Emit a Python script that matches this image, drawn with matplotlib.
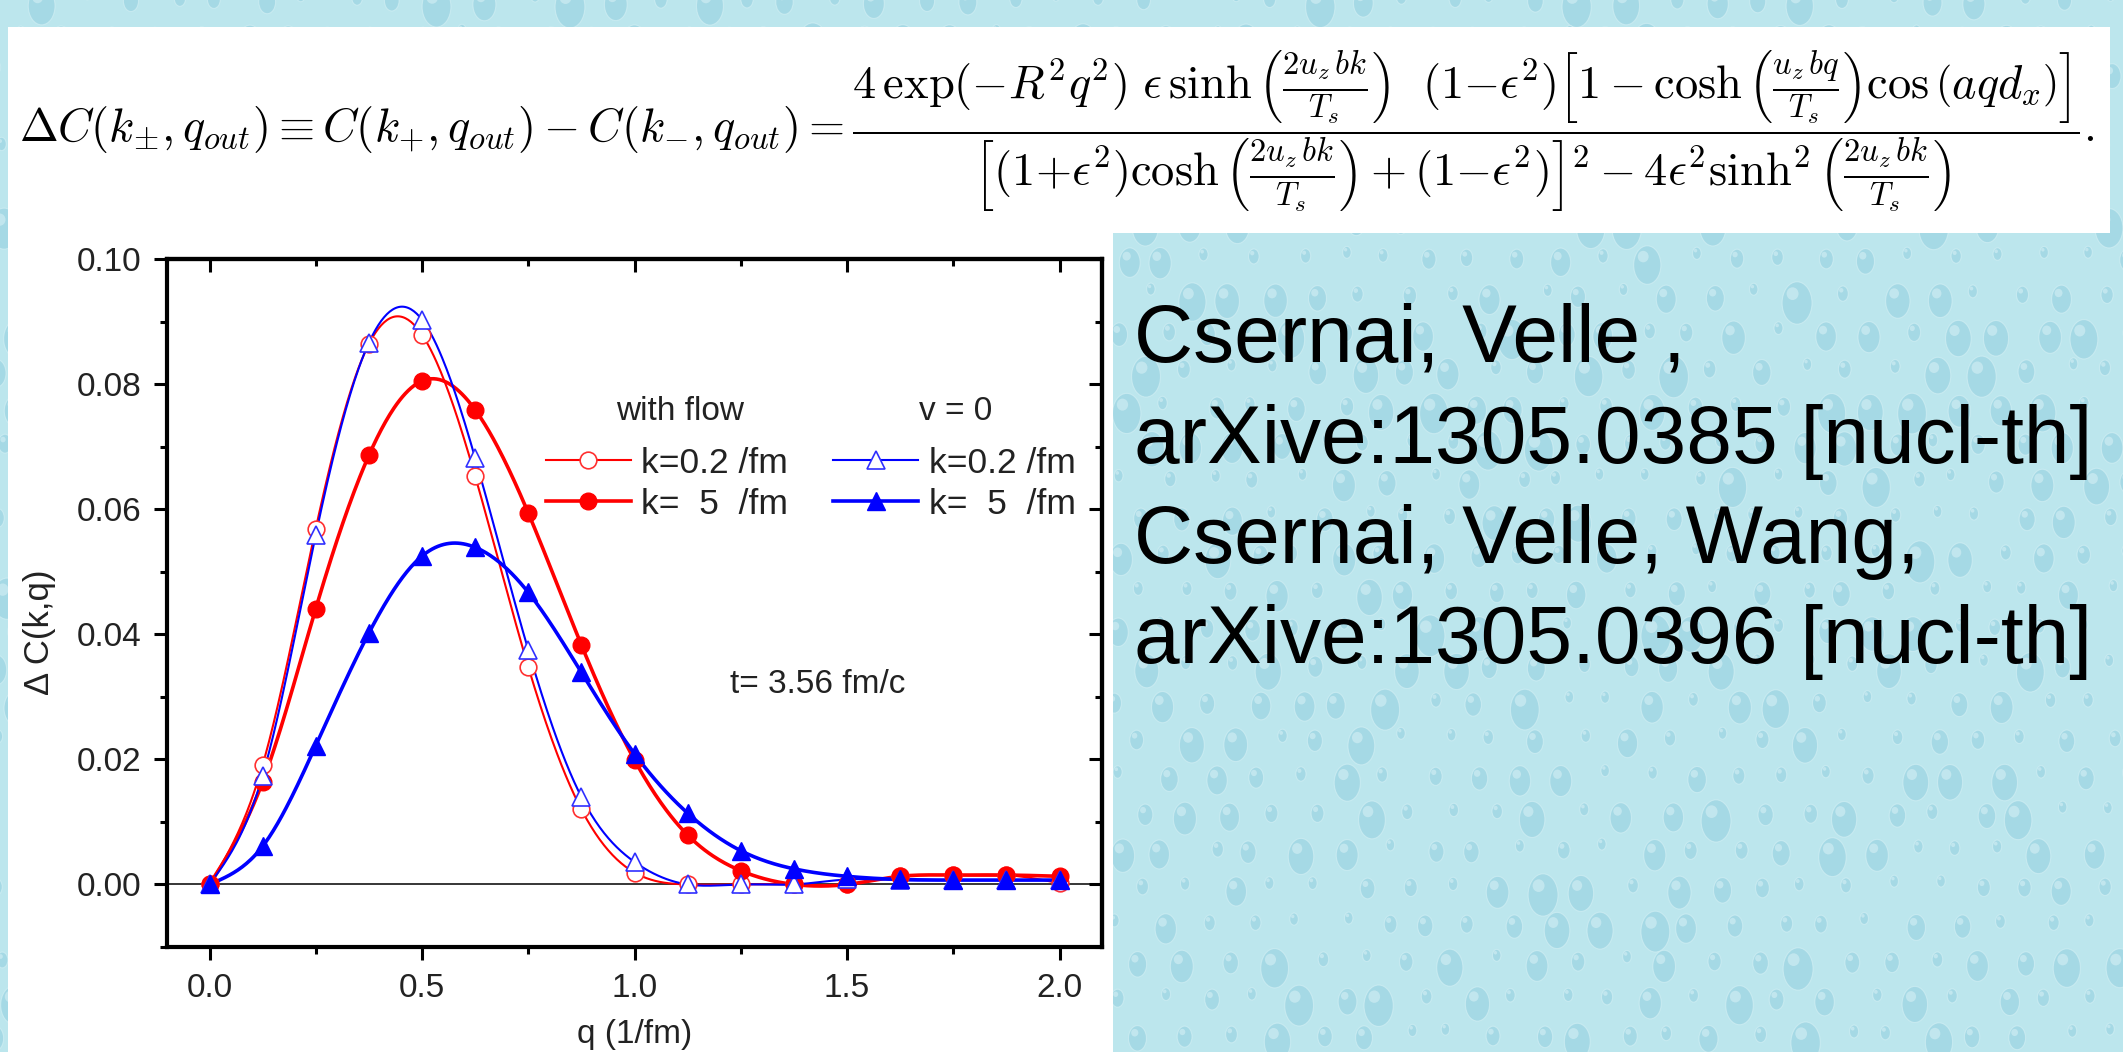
import numpy as np
import matplotlib
matplotlib.use("Agg")
import matplotlib.pyplot as plt
from matplotlib.patches import Rectangle, Ellipse
from matplotlib.ticker import AutoMinorLocator, FormatStrFormatter

plt.rcParams['font.family'] = ['Liberation Sans', 'DejaVu Sans']
plt.rcParams['mathtext.fontset'] = 'cm'

# ---------------- data ----------------
q = [0.0, 0.125, 0.25, 0.375, 0.5, 0.625, 0.75, 0.875, 1.0,
     1.125, 1.25, 1.375, 1.5, 1.625, 1.75, 1.875, 2.0]
flow_k02 = [0.0, 0.0191, 0.0569, 0.0864, 0.0879, 0.0653, 0.0348, 0.0120, 0.0019,
            0.0, 0.0, 0.0, 0.0, 0.0013, 0.0015, 0.0015, 0.0002]
flow_k5 = [0.0, 0.0164, 0.0441, 0.0686, 0.0805, 0.0759, 0.0594, 0.0383, 0.0199,
           0.0079, 0.0022, 0.0, 0.0, 0.0013, 0.0015, 0.0015, 0.0013]
v0_k02 = [0.0, 0.0174, 0.0559, 0.0866, 0.0903, 0.0682, 0.0375, 0.0140, 0.0036,
          0.0, 0.0, 0.0, 0.0008, 0.0007, 0.0007, 0.0007, 0.0007]
v0_k5 = [0.0, 0.0061, 0.0222, 0.0402, 0.0525, 0.0539, 0.0467, 0.0339, 0.0209,
         0.0114, 0.0054, 0.0025, 0.0013, 0.0008, 0.0007, 0.0007, 0.0007]
labels = ['k=0.2 /fm', 'k=  5  /fm', 'k=0.2 /fm', 'k=  5  /fm']
x_ticks = [0.0, 0.5, 1.0, 1.5, 2.0]
y_ticks = [0.00, 0.02, 0.04, 0.06, 0.08, 0.10]

formula = (r'$\Delta C(k_{\pm},q_{out})\equiv C(k_{+},q_{out})-C(k_{-},q_{out})='
           r'\dfrac{4\,\exp(-R^2q^2)\ \epsilon\,\sinh\left(\frac{2u_z\,bk}{T_s}\right)\ \ (1{-}\epsilon^2)'
           r'\left[1-\cosh\left(\frac{u_z\,bq}{T_s}\right)\cos\left(aqd_x\right)\right]}'
           r'{\left[(1{+}\epsilon^2)\cosh\left(\frac{2u_z\,bk}{T_s}\right)+(1{-}\epsilon^2)\right]^2'
           r'-4\epsilon^2\sinh^2\left(\frac{2u_z\,bk}{T_s}\right)}.$')
side_lines = ['Csernai, Velle ,', 'arXive:1305.0385 [nucl-th]',
              'Csernai, Velle, Wang,', 'arXive:1305.0396 [nucl-th]']


def smooth(x, y, n=600):
    """natural cubic spline through the points, used only to draw the line"""
    x = np.asarray(x, float)
    y = np.asarray(y, float)
    m = len(x)
    h = np.diff(x)
    A = np.zeros((m, m))
    r = np.zeros(m)
    A[0, 0] = A[-1, -1] = 1.0
    for i in range(1, m - 1):
        A[i, i - 1] = h[i - 1]
        A[i, i] = 2 * (h[i - 1] + h[i])
        A[i, i + 1] = h[i]
        r[i] = 6 * ((y[i + 1] - y[i]) / h[i] - (y[i] - y[i - 1]) / h[i - 1])
    M = np.linalg.solve(A, r)
    xs = np.linspace(x[0], x[-1], n)
    idx = np.clip(np.searchsorted(x, xs) - 1, 0, m - 2)
    x0, x1 = x[idx], x[idx + 1]
    hh = x1 - x0
    a = (x1 - xs) / hh
    b = (xs - x0) / hh
    ys = (a * y[idx] + b * y[idx + 1]
          + ((a ** 3 - a) * M[idx] + (b ** 3 - b) * M[idx + 1]) * hh ** 2 / 6)
    return xs, ys


W, H = 2123, 1052
fig = plt.figure(figsize=(W / 100, H / 100), dpi=100)
fig.patch.set_facecolor('#bce6ed')

# decorative water-drop texture (fixed ornamental grid)
for row in range(0, 30):
    for col in range(0, 50):
        u = np.sin(col * 12.9898 + row * 78.233) * 43758.5453
        u = u - np.floor(u)
        v = np.sin(col * 39.346 + row * 11.135) * 24634.6345
        v = v - np.floor(v)
        cx = col * 44 + (22 if row % 2 else 0) + 16 * (v - 0.5)
        cy = row * 37 + 14 * (u - 0.5)
        s = 0.35 + 0.9 * u * u
        ew, eh = 24 * s, 34 * s
        fig.add_artist(Ellipse((cx / W, 1 - cy / H), ew / W, eh / H,
                               transform=fig.transFigure, facecolor='#93cfdf',
                               edgecolor='#d8f2f6', linewidth=0.8, alpha=0.55, zorder=-2))
        fig.add_artist(Ellipse(((cx - 0.15 * ew) / W, 1 - (cy - 0.22 * eh) / H),
                               0.4 * ew / W, 0.3 * eh / H,
                               transform=fig.transFigure, facecolor='#e4f6f9',
                               edgecolor='none', alpha=0.45, zorder=-1))

# white panels
fig.add_artist(Rectangle((8 / W, 1 - 233 / H), (2110 - 8) / W, (233 - 27) / H,
                         transform=fig.transFigure, facecolor='white', edgecolor='none', zorder=0))
fig.add_artist(Rectangle((8 / W, 0), (1113 - 8) / W, 1 - 233 / H,
                         transform=fig.transFigure, facecolor='white', edgecolor='none', zorder=0))

# formula, auto-fit to its width
ft = fig.text(19 / W, 1 - 132 / H, formula, fontsize=20, ha='left', va='center', color='black',
              zorder=5)
ren = fig.canvas.get_renderer()
w = ft.get_window_extent(renderer=ren).width
ft.set_fontsize(20 * (2095 - 19) / w)

# side text
for i, s in enumerate(side_lines):
    fig.text(1134 / W, 1 - (362 + 100.5 * i) / H, s, fontsize=59, ha='left', va='baseline',
             color='black', zorder=5)

# ---------------- axes ----------------
ax = fig.add_axes([167 / W, 1 - 947 / H, 935 / W, 688 / H])
ax.set_facecolor('white')
ax.axhline(0, color='black', lw=1.1, zorder=1)

styles = [
    dict(color='#ff0000', marker='o', mfc='white', mec='#ff3030', lw=1.5, ms=12, mew=1.2),
    dict(color='#ff0000', marker='o', mfc='#ff0000', mec='#ff0000', lw=2.6, ms=12),
    dict(color='#0000ff', marker='^', mfc='white', mec='#3030ff', lw=1.5, ms=13, mew=1.2),
    dict(color='#0000ff', marker='^', mfc='#0000ff', mec='#0000ff', lw=2.6, ms=13),
]
handles = []
for ys, st, lab in zip([flow_k02, flow_k5, v0_k02, v0_k5], styles, labels):
    xs_s, ys_s = smooth(q, ys)
    ax.plot(xs_s, ys_s, color=st['color'], lw=st['lw'], zorder=2)
    ax.plot(q, ys, ls='none', marker=st['marker'], mfc=st['mfc'], mec=st['mec'],
            ms=st['ms'], mew=st.get('mew', 1.0), zorder=3)
    h, = ax.plot([], [], color=st['color'], lw=st['lw'], marker=st['marker'], mfc=st['mfc'],
                 mec=st['mec'], ms=st['ms'], mew=st.get('mew', 1.0), label=lab)
    handles.append(h)

ax.set_xlim(-0.1, 2.1)
ax.set_ylim(-0.01, 0.10)
ax.set_xticks(x_ticks)
ax.set_yticks(y_ticks)
ax.xaxis.set_minor_locator(AutoMinorLocator(2))
ax.yaxis.set_minor_locator(AutoMinorLocator(2))
ax.xaxis.set_major_formatter(FormatStrFormatter('%.1f'))
ax.yaxis.set_major_formatter(FormatStrFormatter('%.2f'))
for sp in ax.spines.values():
    sp.set_linewidth(3.0)
ax.tick_params(which='major', direction='out', length=9.5, width=2.2, labelsize=24,
               pad=9, top=False, right=False, labelcolor='#222222')
ax.tick_params(which='minor', direction='out', length=5, width=2.2, top=False, right=False)

for loc, fn in (('top', ax.secondary_xaxis), ('right', ax.secondary_yaxis)):
    sec = fn(loc)
    if loc == 'top':
        sec.set_xticks(x_ticks)
        sec.xaxis.set_minor_locator(AutoMinorLocator(2))
    else:
        sec.set_yticks(y_ticks)
        sec.yaxis.set_minor_locator(AutoMinorLocator(2))
    sec.tick_params(which='major', direction='in', length=9.5, width=2.2,
                    labeltop=False, labelright=False)
    sec.tick_params(which='minor', direction='in', length=5, width=2.2)
    for sp in sec.spines.values():
        sp.set_linewidth(3.0)

ax.set_xlabel('q (1/fm)', fontsize=24, va='baseline', color='#222222')
ax.xaxis.set_label_coords(0.5, (947 - 1043) / 688)
ax.set_ylabel('\u0394 C(k,q)', fontsize=25, va='center', ha='center', color='#222222')
ax.yaxis.set_label_coords((40 - 167) / 935, (947 - 632) / 688)

leg = ax.legend(handles=handles, ncol=2, loc='upper left', bbox_to_anchor=(0.405, 0.727),
                frameon=False, fontsize=25.5, handlelength=2.4, handletextpad=0.3,
                columnspacing=1.27, labelspacing=0.22, borderpad=0, borderaxespad=0,
                numpoints=1)
for t in leg.get_texts():
    t.set_color('#222222')
ax.text(0.549, 0.778, 'with flow', transform=ax.transAxes, fontsize=24, ha='center',
        va='center', color='#222222')
ax.text(0.843, 0.778, 'v = 0', transform=ax.transAxes, fontsize=24, ha='center',
        va='center', color='#222222')
ax.text(1.43, 0.032, 't= 3.56 fm/c', fontsize=24, ha='center', va='center', color='#222222')

fig.savefig('out.png', dpi=100, facecolor=fig.get_facecolor())
